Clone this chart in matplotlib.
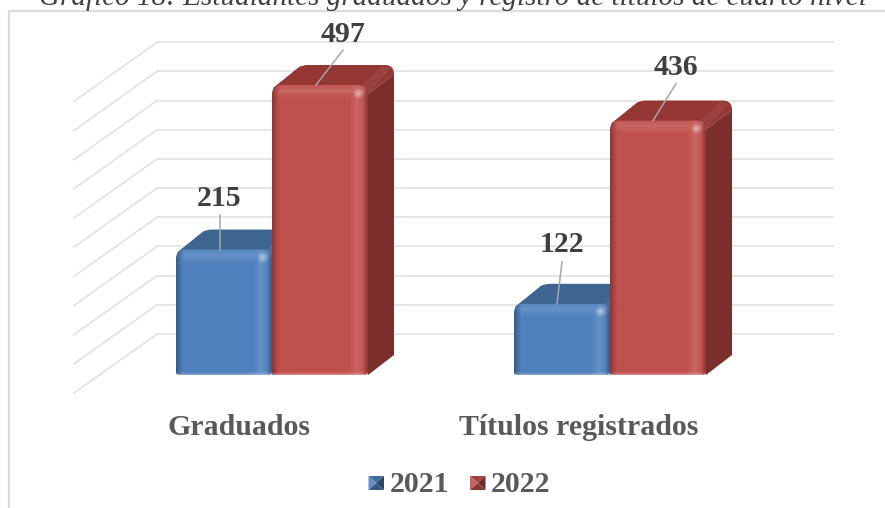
import numpy as np
import matplotlib
matplotlib.use('Agg')
import matplotlib.pyplot as plt
from matplotlib.patches import PathPatch, Polygon
from matplotlib.path import Path
from matplotlib.colors import to_rgb
from matplotlib.transforms import Affine2D

# Data
categories = ['Graduados', 'Títulos registrados']
years = ['2021', '2022']
values_2021 = [215, 122]
values_2022 = [497, 436]
grid_values = list(range(0, 501, 50))
title = 'Gráfico 18: Estudiantes graduados y registro de títulos de cuarto nivel'

# Layout, in reference pixels
W, H = 885, 508
PX_PER_UNIT = 0.5835
PX_PER_CAT = 338
X0_PX, Y0_PX = 272, 375
BAR_PX = 96
DEPTH_X, DEPTH_Y = 26, 20
WALL_Y0 = 334
WALL_X = (157, 833)
SIDE_X, SIDE_Y = 83, 59

front_colors = ['#4F81BD', '#C0504D']
top_colors = ['#3E6690', '#943634']
side_colors = ['#33567C', '#7A2F2D']

# offsets for each (category, series), measured from the centre and top of the bar
label_dx = {(0, 0): -5, (0, 1): 23, (1, 0): 0, (1, 1): 18}
label_up = {(0, 0): 44, (0, 1): 43.5, (1, 0): 52, (1, 1): 46}
leader_top_dx = {(0, 0): -4, (0, 1): 23, (1, 0): 0, (1, 1): 18}
leader_end_dx = {(0, 0): -4, (0, 1): -4, (1, 0): -5, (1, 1): -5}
leader_up = {(0, 0): 35, (0, 1): 35, (1, 0): 42, (1, 1): 37}

plt.rcParams['font.family'] = ['Liberation Serif', 'DejaVu Serif']

fig = plt.figure(figsize=(W / 100, H / 100), dpi=100)
ax = fig.add_axes([0, 0, 1, 1])
ax.set_axis_off()
xlim = (-X0_PX / PX_PER_CAT, (W - X0_PX) / PX_PER_CAT)
ylim = ((Y0_PX - H) / PX_PER_UNIT, Y0_PX / PX_PER_UNIT)

dx = DEPTH_X / PX_PER_CAT
dy = DEPTH_Y / PX_PER_UNIT
bar_w = BAR_PX / PX_PER_CAT
# pixels measured from the top left of the image
px = Affine2D().scale(1, -1).translate(0, H)


def rx(p):
    return p / PX_PER_CAT


def ry(p):
    return p / PX_PER_UNIT


def mix(c, other, t):
    return np.array(c) * (1 - t) + np.array(other) * t


def face_image(color, w, h):
    # front of the bar: flat colour with a soft bevel on every edge
    base = np.array(to_rgb(color))
    light = mix(base, (1, 1, 1), 0.13)
    dark = mix(base, (0, 0, 0), 0.38)
    img = np.ones((h, w, 3)) * base
    xs = np.arange(w) + 0.5
    ys = np.arange(h) + 0.5
    left = np.clip(1 - xs / 7, 0, 1)
    right_dark = np.clip((xs - (w - 5)) / 5, 0, 1)
    right_light = np.clip(1 - np.abs(xs - (w - 11)) / 8, 0, 1)
    top_light = np.clip(1 - np.abs(ys - 6) / 8, 0, 1)
    bottom_light = np.clip((ys - (h - 3)) / 3, 0, 1)
    for j in range(h):
        for i in range(w):
            c = base
            c = mix(c, light, max(right_light[i], top_light[j] * (1 if i > 6 else 0.5)))
            c = mix(c, dark, max(left[i] * 0.8, right_dark[i] * 0.8))
            c = mix(c, (1, 1, 1), bottom_light[j] * 0.35)
            img[j, i] = c
    # glow at the top right corner
    yy, xx = np.mgrid[0:h, 0:w]
    dist = np.hypot(xx - (w - 10), yy - 8)
    glow = np.clip(1 - dist / 6, 0, 1)[..., None] * 0.5
    img = img * (1 - glow) + np.ones(3) * glow
    return np.clip(img, 0, 1)


def draw_bar(left, value, s):
    right = left + bar_w
    rr = rx(9)
    rv = ry(9)
    br = rx(3)
    bv = ry(2)

    # top face
    top_path = Path(
        [(left + rx(1), value - ry(3)), (left + dx + rx(1), value + dy - ry(2)),
         (left + dx + rx(5), value + dy), (left + dx + rx(10), value + dy),
         (right + dx - rr, value + dy), (right + dx, value + dy), (right + dx, value + dy - rv),
         (right, value - rv), (left + rx(1), value - rv)],
        [Path.MOVETO, Path.LINETO, Path.CURVE3, Path.CURVE3, Path.LINETO, Path.CURVE3, Path.CURVE3,
         Path.LINETO, Path.CLOSEPOLY])
    ax.add_patch(PathPatch(top_path, fc=top_colors[s], ec='none', zorder=3))
    # lighter fold in the corner of the top
    ax.add_patch(Polygon([(right - rx(6), value), (right + dx - rr * 1.3, value + dy - ry(1)),
                          (right + dx - rr * 0.3, value + dy - ry(3)), (right, value - rv)],
                         fc=mix(to_rgb(top_colors[s]), (1, 1, 1), 0.06), ec='none', zorder=3))
    # side face
    ax.add_patch(Polygon([(right, 0), (right + dx, dy), (right + dx, value + dy - rv), (right, value - rv)],
                         fc=side_colors[s], ec='none', zorder=3))
    # front face, rounded on top, slightly rounded at the bottom
    front_path = Path(
        [(left + br, 0), (left, 0), (left, bv), (left, value - rv), (left, value), (left + rr, value),
         (right - rr, value), (right, value), (right, value - rv), (right, bv), (right, 0),
         (right - br, 0), (left + br, 0)],
        [Path.MOVETO, Path.CURVE3, Path.CURVE3, Path.LINETO, Path.CURVE3, Path.CURVE3,
         Path.LINETO, Path.CURVE3, Path.CURVE3, Path.LINETO, Path.CURVE3, Path.CURVE3,
         Path.CLOSEPOLY])
    clip = PathPatch(front_path, transform=ax.transData, fc='none', ec='none')
    ax.add_patch(clip)
    h_px = int(round(value * PX_PER_UNIT))
    im = ax.imshow(face_image(front_colors[s], BAR_PX, h_px), extent=(left, right, 0, value),
                   aspect='auto', origin='upper', zorder=4, interpolation='bilinear')
    im.set_clip_path(clip)


# frame of the chart, only left and top show in the crop
fig.add_artist(plt.Line2D([W, 8.5, 8.5], [10.5, 10.5, H], transform=px, color='#DCDCDC', lw=1.6))

# back wall and side wall grid lines
for v in grid_values:
    y_back = WALL_Y0 - v * PX_PER_UNIT
    ax.plot([rx(WALL_X[0] - X0_PX), rx(WALL_X[1] - X0_PX)],
            [ry(Y0_PX - y_back)] * 2, color='#E2E2E2', lw=1.2, zorder=1)
    ax.plot([rx(WALL_X[0] - X0_PX), rx(WALL_X[0] - SIDE_X - X0_PX)],
            [ry(Y0_PX - y_back), ry(Y0_PX - y_back - SIDE_Y)], color='#E2E2E2', lw=1.2, zorder=1)

series = [values_2021, values_2022]
for c in range(len(categories)):
    draw_bar(c - bar_w, series[0][c], 0)
    draw_bar(c, series[1][c], 1)

# value labels with leader lines
for c in range(len(categories)):
    for s in range(2):
        v = series[s][c]
        center = c - bar_w / 2 if s == 0 else c + bar_w / 2
        key = (c, s)
        ax.plot([center + rx(leader_top_dx[key]), center + rx(leader_end_dx[key])],
                [v + ry(leader_up[key]), v], color='#A6A6A6', lw=1.1, zorder=6)
        ax.text(center + rx(label_dx[key]), v + ry(label_up[key]), str(v), ha='center', va='baseline',
                fontsize=21.5, fontweight='bold', color='#404040', zorder=7)

# category labels
cat_dx = [-33, -31]
for c, name in enumerate(categories):
    ax.text(c + rx(cat_dx[c]), ry(Y0_PX - 435), name, ha='center', va='baseline',
            fontsize=21.5, fontweight='bold', color='#595959')

# legend with bevelled squares
leg_x = [368.5, 470]
leg_text = [390, 491]
for s, year in enumerate(years):
    x0, x1 = leg_x[s], leg_x[s] + 15.5
    y0, y1 = 476, 490
    xm, ym = (x0 + x1) / 2, (y0 + y1) / 2
    base = to_rgb(front_colors[s])
    for pts, t in [([(x0, y0), (x1, y0), (xm, ym)], mix(base, (0, 0, 0), 0.15)),
                   ([(x0, y0), (x0, y1), (xm, ym)], mix(base, (1, 1, 1), 0.10)),
                   ([(x1, y0), (x1, y1), (xm, ym)], mix(base, (0, 0, 0), 0.45)),
                   ([(x0, y1), (x1, y1), (xm, ym)], mix(base, (0, 0, 0), 0.30))]:
        fig.add_artist(Polygon(pts, closed=True, transform=px, fc=t, ec='none'))
    fig.text(leg_text[s], H - 492.5, year, transform=Affine2D(), ha='left', va='baseline',
             fontsize=21.5, fontweight='bold', color='#595959')

# the title is cut by the top of the image
fig.text(39, H - 5, title, transform=Affine2D(), ha='left', va='baseline',
         fontsize=21, style='italic', color='#404040')

ax.set_xlim(*xlim)
ax.set_ylim(*ylim)
fig.savefig('out.png', dpi=100)
